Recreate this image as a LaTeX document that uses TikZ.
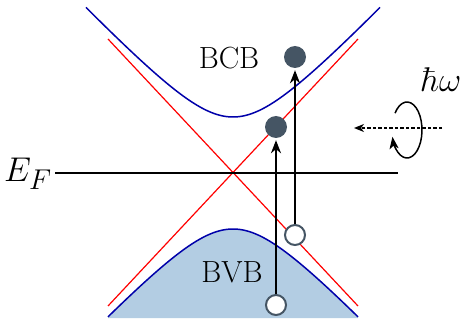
\documentclass[tikz,border=0pt]{standalone}
\usepackage{graphicx}
\usetikzlibrary{arrows.meta}
\definecolor{bandblue}{RGB}{0,0,170}
\definecolor{bandfill}{RGB}{179,205,227}
\definecolor{particle}{RGB}{69,85,100}
\newcommand{\txtbig}[1]{\scalebox{1.23}{\Huge #1}}
\newcommand{\mathbig}[1]{\scalebox{1.38}{\Huge #1}}
\begin{document}
\begin{tikzpicture}[x=1pt,y=1pt,
  lbl/.style={inner sep=0pt},
  elec/.style={circle, fill=particle, minimum size=22pt, inner sep=0pt},
  hole/.style={circle, draw=particle, fill=white, line width=2pt, minimum size=20pt, inner sep=0pt},
  excite/.style={line width=1.8pt, -{Stealth[length=13pt,width=10pt,inset=4pt]}, shorten >=2pt},
  dirac/.style={red, line width=1.2pt},
  band/.style={bandblue, line width=1.5pt}]
\useasboundingbox (0,0) rectangle (464,322);
% filled valence band
\fill[bandfill] plot[domain=-125:125,samples=120] ({233+\x},{149-10*sqrt(31.36+(0.106*\x)^2)}) -- (358,4) -- (108,4) -- cycle;
% Dirac cone
\draw[dirac] (108,16) -- (358,283);
\draw[dirac] (108,283) -- (358,16);
% bands
\draw[band] plot[domain=-147:147,samples=120] ({233+\x},{149+10*sqrt(31.36+(0.106*\x)^2)});
\draw[band] plot[domain=-125:125,samples=120] ({233+\x},{149-10*sqrt(31.36+(0.106*\x)^2)});
% Fermi level
\coordinate (ef0) at (55,149);
\coordinate (ef1) at (398,149);
\draw[line width=1.5pt] (ef0) -- (ef1);
\node[lbl, anchor=base east] (ef) at (52,140) {\mathbig{$E_F$}};
\node[lbl] (bcb) at (229,264) {\txtbig{BCB}};
\node[lbl] (bvb) at (232,50) {\txtbig{BVB}};
\node[lbl, anchor=base west] (hw) at (421,230) {\mathbig{$\hbar\omega$}};
% particles
\node[hole] (h1) at (276,17) {};
\node[hole] (h2) at (295,87) {};
\node[elec] (e1) at (276,195) {};
\node[elec] (e2) at (295,265) {};
\draw[excite] (h1) -- (e1);
\draw[excite] (h2) -- (e2);
% light
\coordinate (ls) at (442,194);
\coordinate (le) at (354,194);
\draw[line width=1.2pt, dash pattern=on 3.5pt off 2pt, -{Stealth[length=10pt,width=8pt,inset=3pt]}] (ls) -- (le);
\draw[line width=1.5pt, -{Stealth[length=12pt,width=9pt,inset=3pt]}] (407,192) ++(143:15 and 28) arc[start angle=143, end angle=-166, x radius=15, y radius=28];
\end{tikzpicture}
\end{document}
